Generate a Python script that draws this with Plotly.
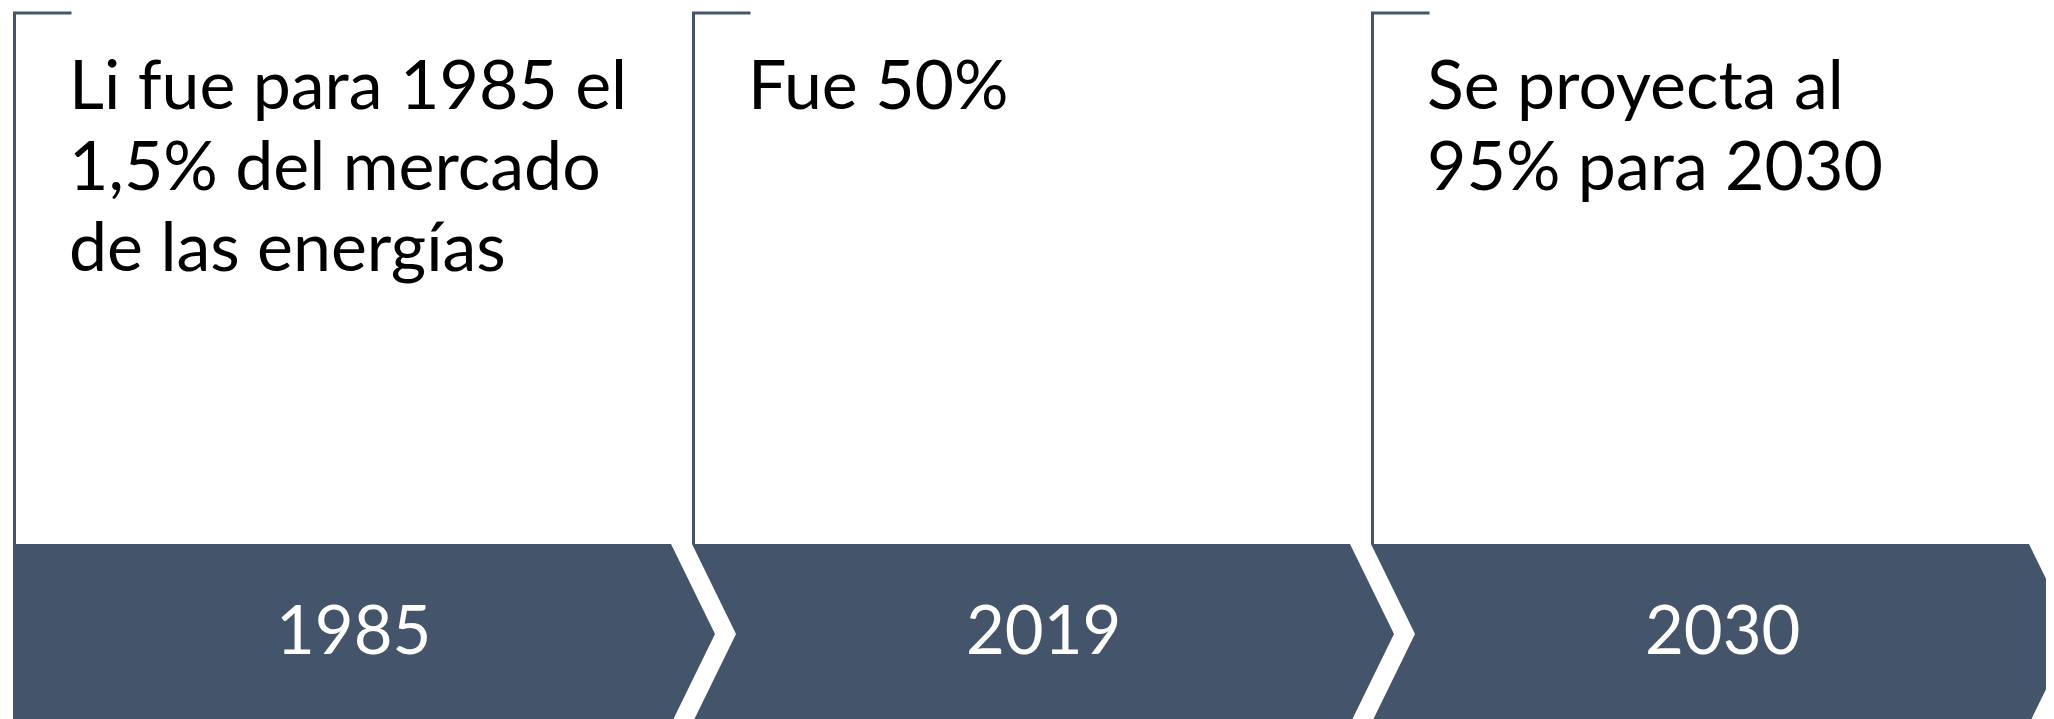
import plotly.graph_objects as go

# ---- data ----
years = ["1985", "2019", "2030"]
desc_lines = [
    ["Li fue para 1985 el", "1,5% del mercado", "de las energías"],
    ["Fue 50%"],
    ["Se proyecta al", "95% para 2030"],
]

# ---- layout constants (pixels, page coordinates) ----
W, H = 2054, 719
PAGE_MARGIN = 8  # default body margin of the html page
X0 = 13          # left of first chevron
STEP = 679       # chevron period
BODY = 658       # flat top width of chevron
POINT = 44       # depth of arrow point / notch
BAND_TOP = 544
BAND_MID = 634
BAND_BOT = 724
LINE_TOP = 13
TICK_LEN = 57
TEXT_DX = 54
BASE0 = 109
LINE_GAP = 81
FS = 68
FS_YEAR = 67
LABEL_BASE = 654
COLOR = "#44546A"
FONT = "Lato"

fig = go.Figure()

for i, yr in enumerate(years):
    left = X0 + i * STEP
    right = left + BODY
    if i == 0:
        xs = [left, right, right + POINT, right, left, left]
        ys = [BAND_TOP, BAND_TOP, BAND_MID, BAND_BOT, BAND_BOT, BAND_TOP]
    else:
        xs = [left, right, right + POINT, right, left, left + POINT, left]
        ys = [BAND_TOP, BAND_TOP, BAND_MID, BAND_BOT, BAND_BOT, BAND_MID, BAND_TOP]
    fig.add_trace(go.Scatter(x=xs, y=ys, mode="lines", fill="toself",
                             fillcolor=COLOR, line=dict(width=0, color=COLOR),
                             hoverinfo="skip", showlegend=False))
    # bracket line
    lx = left + 1.5
    fig.add_trace(go.Scatter(x=[lx + TICK_LEN, lx, lx], y=[LINE_TOP, LINE_TOP, BAND_TOP],
                             mode="lines", line=dict(width=3, color=COLOR),
                             hoverinfo="skip", showlegend=False))
    # year label
    cx = left + ((POINT if i > 0 else POINT / 2) + BODY) / 2
    fig.add_annotation(x=cx, y=LABEL_BASE - 0.387 * FS_YEAR, text=yr, showarrow=False,
                       xanchor="center", yanchor="middle",
                       font=dict(family=FONT, size=FS_YEAR, color="white"))
    # description lines
    for j, ln in enumerate(desc_lines[i]):
        base = BASE0 + j * LINE_GAP
        fig.add_annotation(x=left + TEXT_DX, y=base - 0.387 * FS, text=ln, showarrow=False,
                           xanchor="left", yanchor="middle",
                           font=dict(family=FONT, size=FS, color="black"))

fig.update_layout(
    width=W - PAGE_MARGIN, height=H - PAGE_MARGIN,
    margin=dict(l=0, r=0, t=0, b=0),
    paper_bgcolor="white", plot_bgcolor="white",
    xaxis=dict(range=[PAGE_MARGIN, W], visible=False, fixedrange=True),
    yaxis=dict(range=[H, PAGE_MARGIN], visible=False, fixedrange=True),
    showlegend=False,
)

fig.write_html("out.html", config={"displayModeBar": False})
